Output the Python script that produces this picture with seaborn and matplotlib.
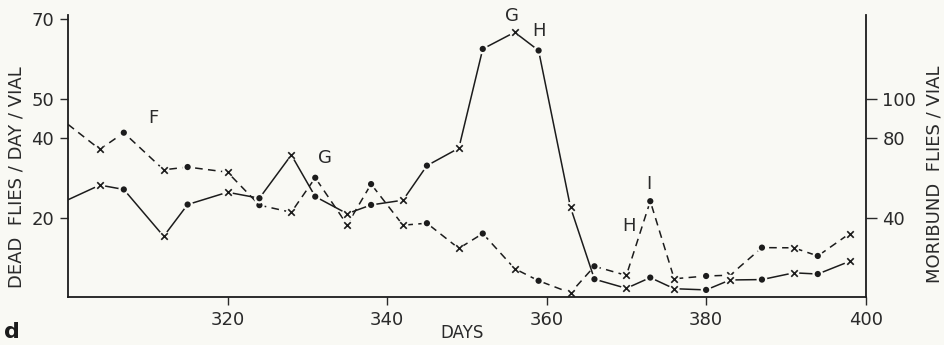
import matplotlib
matplotlib.use("Agg")
import matplotlib.pyplot as plt
import seaborn as sns
import pandas as pd

# sampling days (first point continues from previous panel, no marker)
days = [300, 304, 307, 312, 315, 320, 324, 328, 331, 335, 338, 342, 345, 349,
        352, 356, 359, 363, 366, 370, 373, 376, 380, 383, 387, 391, 394, 398]
# dead flies / day / vial (left axis, solid line)
dead_flies = [24.5, 28.2, 27.1, 15.3, 23.3, 26.4, 24.9, 35.8, 25.3, 21.0,
              23.2, 24.4, 33.1, 37.5, 62.5, 66.7, 62.1, 22.6, 4.5, 2.2,
              4.9, 2.1, 1.8, 4.3, 4.4, 6.1, 5.8, 9.0]
# moribund flies / vial (right axis, dashed line)
moribund = [87, 74.4, 82.8, 64.1, 65.5, 62.9, 46.3, 42.7, 60.1, 36.4,
            56.9, 36.2, 37.2, 24.5, 32.0, 14.3, 8.2, 2.1, 15.5, 10.9,
            48.3, 9.2, 10.6, 11.0, 24.9, 24.8, 20.7, 32.0]

x_ticks = [320, 340, 360, 380, 400]
left_ticks = [20, 40, 50, 70]
right_ticks = [40, 80, 100]

BG = "#f9f9f4"
INK = "#1c1c1c"
TXT = "#2a2a2a"


def setup_style():
    sns.set_theme(style="ticks", rc={"axes.facecolor": BG, "figure.facecolor": BG})
    plt.rcParams["font.family"] = ["DejaVu Sans"]


def add_markers(ax, df, col):
    """alternating x / dot markers, with a small gap cut into the line"""
    marked = df.iloc[1:].reset_index(drop=True)
    marked["kind"] = ["x" if i % 2 == 0 else "o" for i in range(len(marked))]
    sns.scatterplot(data=marked, x="day", y=col, ax=ax, s=60, color=BG,
                    edgecolor="none", zorder=3, legend=False)
    xs = marked[marked["kind"] == "x"]
    dots = marked[marked["kind"] == "o"]
    sns.scatterplot(data=xs, x="day", y=col, ax=ax, marker="x", s=22,
                    color=INK, linewidth=1.2, zorder=4, legend=False)
    sns.scatterplot(data=dots, x="day", y=col, ax=ax, marker="o", s=20,
                    color=INK, edgecolor="none", zorder=4, legend=False)


def main():
    setup_style()
    df = pd.DataFrame({"day": days, "dead": dead_flies, "moribund": moribund})

    fig = plt.figure(figsize=(9.44, 3.45), dpi=100)
    ax = fig.add_axes([0.072, 0.139, 0.845, 0.817])
    ax2 = ax.twinx()
    ax.set_zorder(ax2.get_zorder() + 1)
    ax.patch.set_visible(False)

    sns.lineplot(data=df, x="day", y="dead", ax=ax, color=INK, linewidth=1.1,
                 zorder=2)
    add_markers(ax, df, "dead")

    sns.lineplot(data=df, x="day", y="moribund", ax=ax2, color=INK,
                 linewidth=1.1, zorder=2)
    ax2.lines[-1].set_dashes([5, 3.5])
    add_markers(ax2, df, "moribund")

    ax.set_xlim(300, 400)
    ax.set_ylim(0, 71)
    ax2.set_ylim(0, 142)
    ax.set_xticks(x_ticks)
    ax.set_yticks(left_ticks)
    ax2.set_yticks(right_ticks)

    for a in (ax, ax2):
        a.spines["top"].set_visible(False)
        for s in ("left", "right", "bottom"):
            a.spines[s].set_linewidth(1.3)
            a.spines[s].set_color(INK)
        a.tick_params(direction="out", width=1.0, labelsize=13,
                      colors=TXT, pad=4)
    ax.tick_params(axis="y", length=6)
    ax.tick_params(axis="x", length=6)
    ax2.tick_params(axis="y", length=8)
    ax.spines["right"].set_visible(False)
    ax2.spines["left"].set_visible(False)
    ax2.spines["bottom"].set_visible(False)

    ax.set_xlabel("")
    ax.set_ylabel("")
    ax2.set_ylabel("")
    fig.text(0.489, 0.035, "DAYS", fontsize=12, color=TXT,
             ha="center", va="center")
    fig.text(0.017, 0.487, "DEAD  FLIES / DAY / VIAL", fontsize=13, color=TXT,
             rotation=90, ha="center", va="center")
    fig.text(0.990, 0.496, "MORIBUND  FLIES / VIAL", fontsize=13, color=TXT,
             rotation=90, ha="center", va="center")

    # letter annotations
    kw = dict(fontsize=13, color=TXT, ha="center", va="center", clip_on=False)
    ax.text(310.7, 45, "F", **kw)
    ax.text(332.2, 35, "G", **kw)
    ax.text(355.6, 70.8, "G", **kw)
    ax.text(359.0, 67.0, "H", **kw)
    ax.text(370.3, 18, "H", **kw)
    ax.text(372.8, 28.4, "I", **kw)

    fig.text(0.004, 0.01, "d", fontsize=16, fontweight="bold", color=INK,
             ha="left", va="bottom")

    fig.savefig("out.png", dpi=100, facecolor=BG)
    plt.close(fig)


if __name__ == "__main__":
    main()
